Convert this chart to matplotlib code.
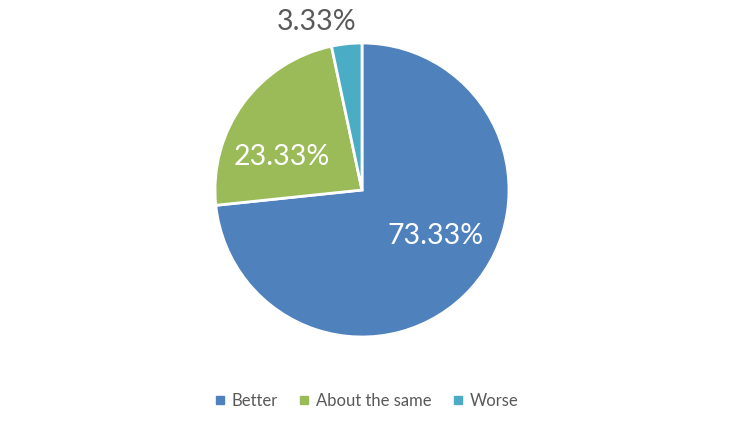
import matplotlib
matplotlib.use("Agg")
import matplotlib.pyplot as plt
from matplotlib.lines import Line2D

# Data
labels = ["Better", "About the same", "Worse"]
values = [73.33, 23.33, 3.33]
colors = ["#4F81BD", "#9BBB59", "#4BACC6"]

plt.rcParams["font.family"] = ["Lato", "DejaVu Sans"]

fig = plt.figure(figsize=(7.35, 4.28), dpi=100)
# pie axes: centre (362, 190) px, radius ~147 px
cx, cy, r = 362 / 735, (428 - 190) / 428, 147
ax = fig.add_axes([cx - r / 735, cy - r / 428, 2 * r / 735, 2 * r / 428])

wedges, texts = ax.pie(values, colors=colors, startangle=90, counterclock=False,
                       wedgeprops=dict(edgecolor="white", linewidth=2))
ax.set_xlim(-1, 1)
ax.set_ylim(-1, 1)
ax.set_aspect("equal")

# label positions (axes fraction of radius)
label_pos = [((436 - 362) / r, -(236 - 190) / r, "white"),
             ((282 - 362) / r, -(157 - 190) / r, "white"),
             ((317 - 362) / r, -(22 - 190) / r, "#595959")]
for v, (x, y, c) in zip(values, label_pos):
    ax.text(x, y, f"{v:.2f}%", ha="center", va="center", fontsize=20.5, color=c,
            clip_on=False)

handles = [Line2D([0], [0], marker="s", linestyle="none", markersize=6,
                  markerfacecolor=c, markeredgecolor=c) for c in colors]
fig.legend(handles, labels, loc="center", bbox_to_anchor=(366 / 735, 1 - 401 / 428),
           ncol=3, frameon=False, fontsize=12, handletextpad=0.3, columnspacing=1.2,
           labelcolor="#595959", handlelength=0.8)

fig.savefig("out.png", dpi=100)
